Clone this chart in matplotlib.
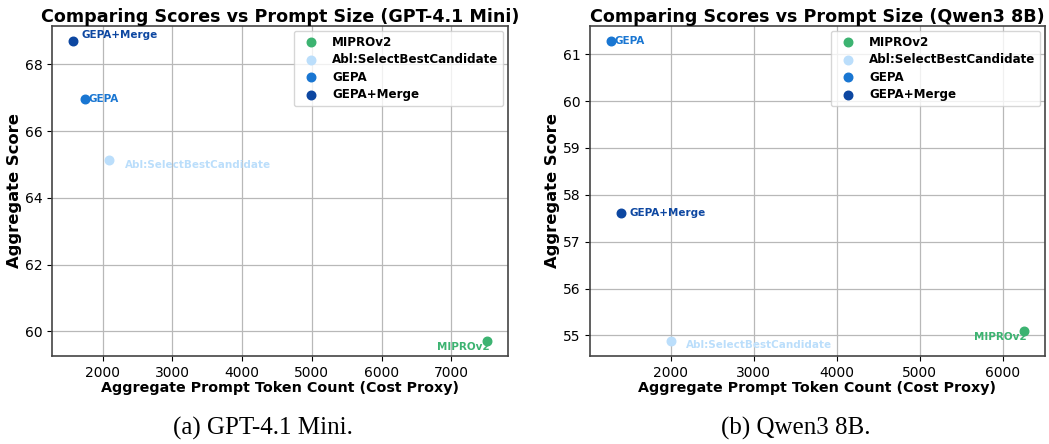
import matplotlib
matplotlib.use("Agg")
import matplotlib.pyplot as plt

methods = ["MIPROv2", "Abl:SelectBestCandidate", "GEPA", "GEPA+Merge"]
colors = ["#3cb371", "#bbdefb", "#1976d2", "#0d47a1"]

gpt_tokens = [7514, 2096, 1743, 1571]
gpt_scores = [59.71, 65.12, 66.97, 68.70]

qwen_tokens = [6261, 2000, 1279, 1403]
qwen_scores = [55.10, 54.88, 61.28, 57.62]

titles = ["Comparing Scores vs Prompt Size (GPT-4.1 Mini)",
          "Comparing Scores vs Prompt Size (Qwen3 8B)"]
captions = ["(a) GPT-4.1 Mini.", "(b) Qwen3 8B."]

# label offsets in points (dx, dy, ha)
gpt_offsets = [(2, -4, "right"), (11, -3, "left"), (3, 0, "left"), (6.5, 4.5, "left")]
qwen_offsets = [(2, -4.5, "right"), (11, -3, "left"), (3, 0, "left"), (6, 0, "left")]

fig = plt.figure(figsize=(10.49, 4.44), dpi=100)
ax1 = fig.add_axes([52/1049, 88/444, 456/1049, 330/444])
ax2 = fig.add_axes([590/1049, 88/444, 455/1049, 330/444])

for ax, xs, ys, offs, title, cap, cx in [
        (ax1, gpt_tokens, gpt_scores, gpt_offsets, titles[0], captions[0], 263/1049),
        (ax2, qwen_tokens, qwen_scores, qwen_offsets, titles[1], captions[1], 796/1049)]:
    ax.set_axisbelow(True)
    ax.grid(True, color="#b8b8b8", linewidth=0.9)
    for m, c, x, y, (dx, dy, ha) in zip(methods, colors, xs, ys, offs):
        ax.scatter([x], [y], s=38, color=c, label=m, zorder=3)
        ax.annotate(m, (x, y), xytext=(dx, dy), textcoords="offset points",
                    ha=ha, va="center", color=c, fontsize=7.5, fontweight="bold")
    ax.set_title(title, fontsize=12.6, fontweight="bold", pad=3)
    ax.set_xlabel("Aggregate Prompt Token Count (Cost Proxy)", fontsize=10.3,
                  fontweight="bold", labelpad=1)
    ax.set_ylabel("Aggregate Score", fontsize=11.8, fontweight="bold", labelpad=2)
    ax.tick_params(labelsize=10)
    for sp in ax.spines.values():
        sp.set_color("#444444")
        sp.set_linewidth(1.2)
    ax.legend(loc="upper right", prop={"weight": "bold", "size": 8.6},
              scatterpoints=1, borderaxespad=0.4, labelspacing=0.38)
    fig.text(cx, 16/444, cap, ha="center", va="center",
             fontsize=18, family="Liberation Serif")

ax1.set_xticks([2000, 3000, 4000, 5000, 6000, 7000])
ax1.set_yticks([60, 62, 64, 66, 68])
ax2.set_xticks([2000, 3000, 4000, 5000, 6000])
ax2.set_yticks([55, 56, 57, 58, 59, 60, 61])

fig.savefig("out.png", dpi=100)
